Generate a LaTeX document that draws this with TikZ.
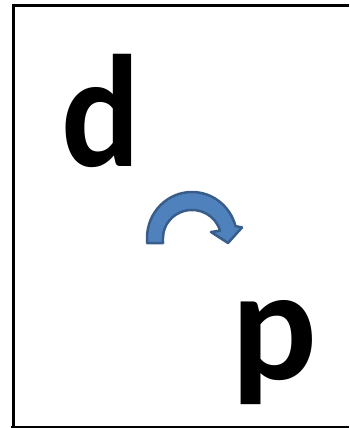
\documentclass[tikz,border=0pt]{standalone}
\usepackage{graphicx}
\usepackage{fontspec}
\setmainfont{Carlito}
\definecolor{arrowfill}{HTML}{4F81BD}
\definecolor{arrowline}{HTML}{385D8A}
\begin{document}
\begin{tikzpicture}[x=1pt,y=-1pt,
  letter/.style={inner sep=0pt, font=\fontsize{160}{160}\selectfont\bfseries, anchor=base},
  frameline/.style={line width=3pt, black}]
\useasboundingbox (0,0) rectangle (349,428);
% frame
\coordinate (tl) at (12,6);
\coordinate (tr) at (349,6);
\coordinate (lt) at (13.5,4.5);
\coordinate (lb) at (13.5,427);
\coordinate (bl) at (11,427);
\coordinate (br) at (349,427);
\draw[frameline] (tl) -- (tr);
\draw[frameline] (lt) -- (lb);
\draw[line width=1.2pt] (bl) -- (br);
% letters
\node[letter] (d) at (100.8,166) {\scalebox{0.92}[1]{d}};
\node[letter] (p) at (274,379) {p};
% curved arrow
\draw[fill=arrowfill, draw=arrowline, line width=2.5pt, line join=round]
  (147,243) -- (147,238) arc[start angle=180, end angle=345, x radius=45, y radius=46]
  -- (242,227.5) -- (228,243) -- (211,232) -- (220,230.7)
  arc[start angle=345, end angle=180, x radius=29, y radius=28] -- (163,243) -- cycle;
\end{tikzpicture}
\end{document}
